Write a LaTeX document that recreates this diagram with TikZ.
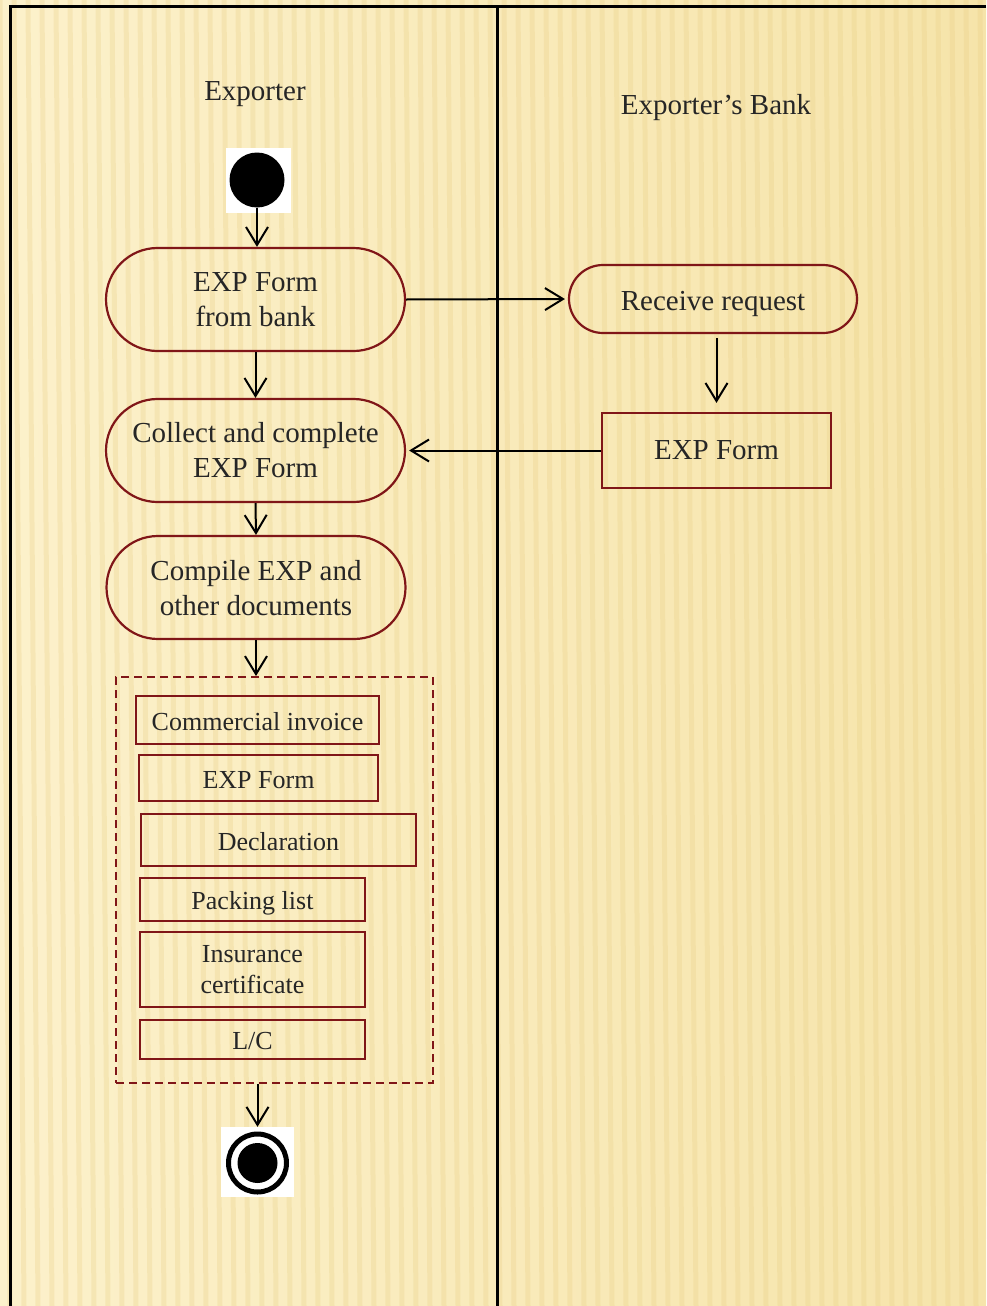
\documentclass[tikz,border=0pt]{standalone}
\usepackage{fontspec}
\setmainfont{Liberation Serif}
\usetikzlibrary{arrows.meta}
\definecolor{dred}{RGB}{128,22,24}
\definecolor{txt}{RGB}{38,38,38}
\definecolor{bgL}{RGB}{252,241,203}
\definecolor{bgR}{RGB}{246,228,170}
\definecolor{stripe}{RGB}{232,205,130}
\newcommand\bigf{\fontsize{29}{35}\selectfont}
\newcommand\smallf{\fontsize{26}{31}\selectfont}
\newcommand\nodepth[1]{\raisebox{0pt}[\height][0pt]{#1}}
\begin{document}
\begin{tikzpicture}[x=1pt,y=-1pt,
  act/.style={draw=dred, line width=2.2pt, inner sep=0pt, align=center, text=txt, font=\bigf},
  one/.style={text height=20pt, text depth=0pt},
  docbox/.style={draw=dred, line width=2.2pt, inner sep=0pt, align=center, text=txt, font=\smallf},
  arr/.style={line width=2pt, -{Straight Barb[length=18pt,width=22pt]}},
  lane/.style={line width=3pt, black},
  title/.style={text=txt, font=\bigf, anchor=base}]
\useasboundingbox (0,0) rectangle (986,1306);
% background
\shade[left color=bgL, right color=bgR] (0,0) rectangle (986,1306);
\foreach \x in {0,14,...,980} \draw[stripe, line width=5pt, opacity=0.28] (\x,0) -- (\x+10,1306);
% swimlane frame
\draw[lane] (986,7) -- (10,7) -- (10,1306);
\draw[lane] (497,7) -- (497,1306);
% lane titles
\node[title] (t1) at (255,100) {Exporter};
\node[title] (t2) at (716,114) {Exporter’s Bank};
% start
\node[fill=white, minimum size=65pt, inner sep=0pt] (startbg) at (258.5,180.5) {};
\node[circle, fill=black, minimum size=55pt, inner sep=0pt] (start) at (257,180) {};
% activities
\node[act, rounded corners=51.5pt, minimum width=299pt, minimum height=103pt] (n1) at (255.5,299.5) {EXP Form\\from bank};
\node[act, rounded corners=51.5pt, minimum width=299pt, minimum height=103pt] (n2) at (255.5,450.5) {Collect and complete\\EXP Form};
\node[act, rounded corners=51.5pt, minimum width=299pt, minimum height=103pt] (n3) at (256,587.5) {Compile EXP and\\\nodepth{other documents}};
\node[act, text height=22pt, text depth=0pt, rounded corners=34pt, minimum width=288pt, minimum height=68pt] (rr) at (713,299) {Receive request};
\node[act, text height=18pt, text depth=0pt, minimum width=229pt, minimum height=75pt] (expb) at (716.5,450.5) {EXP Form};
% documents group
\node[draw=dred, line width=2pt, dash pattern=on 8pt off 5pt, minimum width=317pt, minimum height=406pt, inner sep=0pt] (docs) at (274.5,880) {};
\node[docbox, one, minimum width=243pt, minimum height=48pt] (ci) at (257.5,720) {Commercial invoice};
\node[docbox, one, minimum width=239pt, minimum height=46pt] (ef) at (258.5,778) {EXP Form};
\node[docbox, one, minimum width=275pt, minimum height=52pt] (de) at (278.5,840) {Declaration};
\node[docbox, one, minimum width=225pt, minimum height=43pt] (pl) at (252.5,899.5) {Packing list};
\node[docbox, minimum width=225pt, minimum height=75pt] (ic) at (252.5,969.5) {Insurance\\certificate};
\node[docbox, one, minimum width=225pt, minimum height=39pt] (lc) at (252.5,1039.5) {L/C};
% end
\node[fill=white, minimum width=73pt, minimum height=70pt, inner sep=0pt] (endbg) at (257.5,1162) {};
\node[circle, draw=black, line width=5pt, minimum size=58pt, inner sep=0pt] (endring) at (257.5,1163) {};
\node[circle, fill=black, minimum size=40pt, inner sep=0pt] (endn) at (257.5,1163) {};
% connectors
\draw[arr] (start.south) -- (start.south |- n1.north);
\draw[arr] (n1.south) -- (n2.north);
\draw[arr] (n2.south) -- (n3.north);
\draw[arr] (n3.south) -- (n3.south |- docs.north);
\draw[arr] (docs.south -| endn) -- (endbg.north);
\draw[arr, shorten >=3pt] (n1.east) -- (rr.west);
\draw[arr, shorten <=4pt, shorten >=9pt] (rr.south -| expb) -- (expb.north);
\draw[arr, shorten >=3pt] (expb.west) -- (n2.east);
\end{tikzpicture}
\end{document}
